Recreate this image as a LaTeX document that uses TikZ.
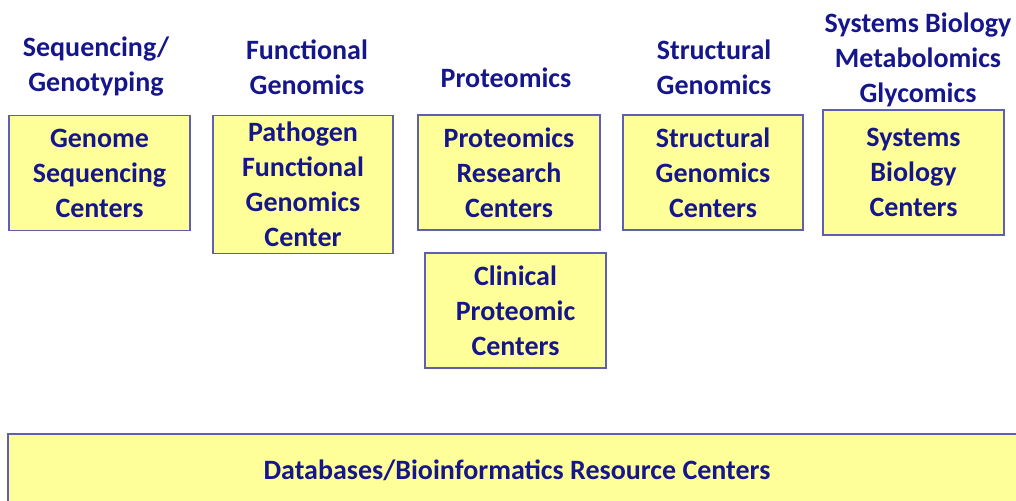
\documentclass[tikz,border=0pt]{standalone}
\usepackage{fontspec}
\setmainfont{Carlito}
\usepackage{tikz}
\definecolor{titleblue}{RGB}{22,22,140}
\definecolor{boxyellow}{RGB}{255,255,153}
\definecolor{boxedge}{RGB}{95,95,175}

\begin{document}
\begin{tikzpicture}[x=1pt, y=-1pt,
  every node/.style={text=titleblue, font=\fontsize{28}{35}\selectfont\bfseries, align=center, inner sep=0pt},
  centerbox/.style={draw=boxedge, fill=boxyellow, line width=1.3pt, minimum width=181pt, minimum height=115pt}]
  \useasboundingbox (0,0) rectangle (1016,500);
  % programme headings
  \node (seqhead)  at (96,67)  {Sequencing/\\Genotyping};
  \node (funchead) at (307,67) {Functional\\Genomics};
  \node (prothead) at (506,78) {Proteomics};
  \node (structhead) at (714,67) {Structural\\Genomics};
  \node (syshead)  at (918,59.5) {Systems Biology\\Metabolomics\\Glycomics};
  % centers
  \node[centerbox] (genome) at (99.5,173) {Genome\\Sequencing\\Centers};
  \node[centerbox, minimum width=180pt, minimum height=138pt] (pathogen) at (303,184.5) {Pathogen\\Functional\\Genomics\\Center};
  \node[centerbox, minimum width=182pt] (protres) at (509,172.5) {Proteomics\\Research\\Centers};
  \node[centerbox] (clinical) at (515.5,310.5) {Clinical\\Proteomic\\Centers};
  \node[centerbox, minimum width=180pt] (structural) at (713,172.5) {Structural\\Genomics\\Centers};
  \node[centerbox, minimum height=125pt] (systems) at (913.5,172.5) {Systems\\Biology\\Centers};
  \node[centerbox, minimum width=1018pt, minimum height=72pt] (databases) at (517,470) {Databases/Bioinformatics Resource Centers};
\end{tikzpicture}
\end{document}
